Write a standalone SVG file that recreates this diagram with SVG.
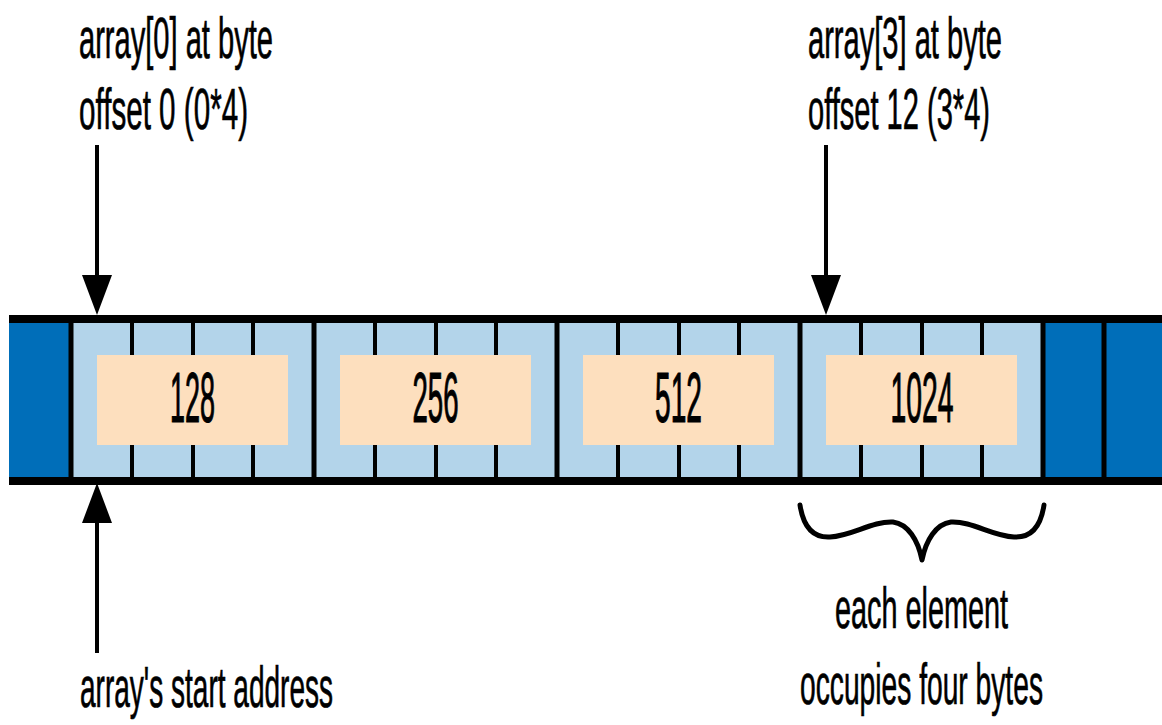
<svg xmlns="http://www.w3.org/2000/svg" width="1162" height="725" viewBox="0 0 1162 725">
  <style>
    .lbl { font-family: "Liberation Sans", Arial, sans-serif; font-size: 58px; fill: #000; stroke: #000; stroke-width: 0.7px; }
    .num { font-family: "Liberation Sans", Arial, sans-serif; font-size: 70px; fill: #000; stroke: #000; stroke-width: 1.2px; text-anchor: middle; }
    .dark { fill: #006EB9; }
    .light { fill: #B3D4EA; }
    .val { fill: #FDDFBE; }
    .rail { stroke: #000; stroke-width: 8; fill: none; }
    .div { stroke: #000; stroke-width: 5; fill: none; }
    .tick { stroke: #000; stroke-width: 4; fill: none; }
    .arrow { stroke: #000; stroke-width: 4; fill: none; marker-end: url(#head); }
  </style>
  <defs>
    <marker id="head" markerUnits="userSpaceOnUse" markerWidth="41" markerHeight="30" refX="0" refY="15" orient="auto" viewBox="0 0 41 30">
      <path d="M0,0 L40,15 L0,30 Z" fill="#000"/>
    </marker>
  </defs>
  <rect width="1162" height="725" fill="#fff"/>

  <g id="memory-strip">
    <rect class="dark" x="9" y="323" width="62" height="154"/>
    <rect class="light" x="71" y="323" width="972" height="154"/>
    <rect class="dark" x="1043" y="323" width="119" height="154"/>
    <g id="byte-ticks">
      <line class="tick" x1="132" y1="319" x2="132" y2="481"/>
      <line class="tick" x1="193" y1="319" x2="193" y2="481"/>
      <line class="tick" x1="253" y1="319" x2="253" y2="481"/>
      <line class="tick" x1="375" y1="319" x2="375" y2="481"/>
      <line class="tick" x1="436" y1="319" x2="436" y2="481"/>
      <line class="tick" x1="496" y1="319" x2="496" y2="481"/>
      <line class="tick" x1="618" y1="319" x2="618" y2="481"/>
      <line class="tick" x1="679" y1="319" x2="679" y2="481"/>
      <line class="tick" x1="739" y1="319" x2="739" y2="481"/>
      <line class="tick" x1="861" y1="319" x2="861" y2="481"/>
      <line class="tick" x1="922" y1="319" x2="922" y2="481"/>
      <line class="tick" x1="982" y1="319" x2="982" y2="481"/>
    </g>
    <g id="element-dividers">
      <line class="div" x1="71" y1="319" x2="71" y2="481"/>
      <line class="div" x1="314" y1="319" x2="314" y2="481"/>
      <line class="div" x1="557" y1="319" x2="557" y2="481"/>
      <line class="div" x1="800" y1="319" x2="800" y2="481"/>
      <line class="div" x1="1043" y1="319" x2="1043" y2="481"/>
      <line class="div" x1="1104" y1="319" x2="1104" y2="481"/>
    </g>
    <line class="rail" x1="9" y1="319" x2="1162" y2="319"/>
    <line class="rail" x1="9" y1="481" x2="1162" y2="481"/>
  </g>

  <g id="element-0">
    <rect class="val" x="97" y="355" width="191" height="90"/>
    <text class="num" transform="translate(192.5,422) scale(0.4,1)" x="0" y="0" textLength="112.5" lengthAdjust="spacingAndGlyphs">128</text>
  </g>
  <g id="element-1">
    <rect class="val" x="340" y="355" width="191" height="90"/>
    <text class="num" transform="translate(435.5,422) scale(0.4,1)" x="0" y="0" textLength="115" lengthAdjust="spacingAndGlyphs">256</text>
  </g>
  <g id="element-2">
    <rect class="val" x="583" y="355" width="191" height="90"/>
    <text class="num" transform="translate(678.5,422) scale(0.4,1)" x="0" y="0" textLength="117.5" lengthAdjust="spacingAndGlyphs">512</text>
  </g>
  <g id="element-3">
    <rect class="val" x="826" y="355" width="191" height="90"/>
    <text class="num" transform="translate(922,422) scale(0.4,1)" x="0" y="0" textLength="157.5" lengthAdjust="spacingAndGlyphs">1024</text>
  </g>

  <g id="label-array0">
    <text class="lbl" transform="translate(79,58) scale(0.5,1)" x="0" y="0" textLength="388" lengthAdjust="spacingAndGlyphs">array[0] at byte</text>
    <text class="lbl" transform="translate(79,129) scale(0.5,1)" x="0" y="0" textLength="338" lengthAdjust="spacingAndGlyphs">offset 0 (0*4)</text>
  </g>
  <g id="label-array3">
    <text class="lbl" transform="translate(808,58) scale(0.5,1)" x="0" y="0" textLength="388" lengthAdjust="spacingAndGlyphs">array[3] at byte</text>
    <text class="lbl" transform="translate(808,129) scale(0.5,1)" x="0" y="0" textLength="364" lengthAdjust="spacingAndGlyphs">offset 12 (3*4)</text>
  </g>
  <g id="label-start">
    <text class="lbl" transform="translate(80,707) scale(0.5,1)" x="0" y="0" textLength="506" lengthAdjust="spacingAndGlyphs">array's start address</text>
  </g>
  <g id="label-element-size">
    <text class="lbl" transform="translate(835,628) scale(0.5,1)" x="0" y="0" textLength="346" lengthAdjust="spacingAndGlyphs">each element</text>
    <text class="lbl" transform="translate(800,704) scale(0.5,1)" x="0" y="0" textLength="486" lengthAdjust="spacingAndGlyphs">occupies four bytes</text>
  </g>

  <g id="connectors">
    <line class="arrow" x1="97" y1="145" x2="97" y2="275"/>
    <line class="arrow" x1="826" y1="145" x2="826" y2="275"/>
    <line class="arrow" x1="97" y1="653" x2="97" y2="523"/>
    <path id="brace" d="M800,505 C803,525 812,538 830,537 C852,536 872,521 893,522 C908,524 918,540 922,560 C926,540 936,524 951,522 C972,521 992,536 1014,537 C1032,538 1041,525 1044,505" fill="none" stroke="#000" stroke-width="5" stroke-linecap="round" stroke-linejoin="round"/>
  </g>
</svg>
